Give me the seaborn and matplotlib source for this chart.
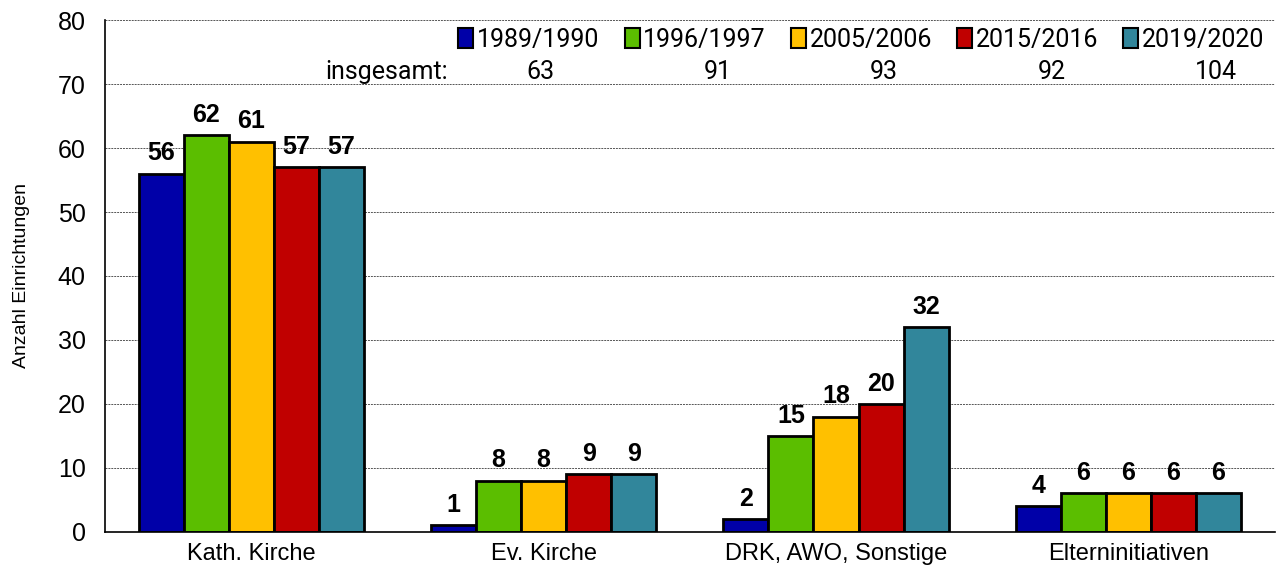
import seaborn as sns
import pandas as pd
import matplotlib.pyplot as plt

categories = ["Kath. Kirche", "Ev. Kirche", "DRK, AWO, Sonstige", "Elterninitiativen"]
years = ["1989/1990", "1996/1997", "2005/2006", "2015/2016", "2019/2020"]
v1989 = [56, 1, 2, 4]
v1996 = [62, 8, 15, 6]
v2005 = [61, 8, 18, 6]
v2015 = [57, 9, 20, 6]
v2019 = [57, 9, 32, 6]
totals = [63, 91, 93, 92, 104]
colors = ["#0000A8", "#5BBE00", "#FFC000", "#C00000", "#31869B"]

rows = []
for year, vals in zip(years, [v1989, v1996, v2005, v2015, v2019]):
    for cat, v in zip(categories, vals):
        rows.append({"Träger": cat, "Jahr": year, "Anzahl": v})
df = pd.DataFrame(rows)

sns.set_style("white")
plt.rcParams['font.family'] = ['Liberation Sans', 'DejaVu Sans']
plt.rcParams['text.color'] = 'black'
plt.rcParams['axes.labelcolor'] = 'black'
plt.rcParams['xtick.color'] = 'black'
plt.rcParams['ytick.color'] = 'black'

fig, ax = plt.subplots(figsize=(12.81, 5.78), dpi=100)
sns.barplot(data=df, x="Träger", y="Anzahl", hue="Jahr", palette=colors,
            width=0.77, edgecolor="black", linewidth=2, saturation=1, ax=ax)

for cont in ax.containers:
    ax.bar_label(cont, fontsize=18, fontweight="bold", padding=6, color="black")

ax.set_ylim(0, 80)
ax.set_yticks(range(0, 81, 10))
ax.yaxis.grid(True, linestyle=(0, (2, 1)), color="#555555", linewidth=0.7)
ax.set_axisbelow(True)
ax.set_xlabel("")
ax.set_ylabel("Anzahl Einrichtungen", fontsize=14, labelpad=20)
ax.tick_params(axis="y", labelsize=18, length=0, pad=14)
ax.tick_params(axis="x", labelsize=17, length=0, pad=8)
for s in ["top", "right"]:
    ax.spines[s].set_visible(False)
ax.spines["left"].set_linewidth(1.2)
ax.spines["bottom"].set_linewidth(1.2)
ax.spines["left"].set_color("black")
ax.spines["bottom"].set_color("black")

narrow = ["Roboto", "DejaVu Sans"]
leg = ax.legend(loc="upper right", ncol=5, frameon=False, bbox_to_anchor=(1.0, 1.005),
                prop={"family": narrow, "size": 18},
                handlelength=0.6, handleheight=0.9, handletextpad=0.15, columnspacing=1.0,
                borderaxespad=0)
for h in leg.legend_handles:
    h.set_edgecolor("black")
    h.set_linewidth(1.5)

fig.text(0.302, 0.875, "insgesamt:", fontsize=18, family=narrow, ha="center", va="center")
tot_x = [0.422, 0.560, 0.690, 0.821, 0.949]
for x, t in zip(tot_x, totals):
    fig.text(x, 0.875, str(t), fontsize=18, family=narrow, ha="center", va="center")

plt.subplots_adjust(left=0.082, right=0.995, top=0.965, bottom=0.08)
fig.savefig("out.png", dpi=100)
